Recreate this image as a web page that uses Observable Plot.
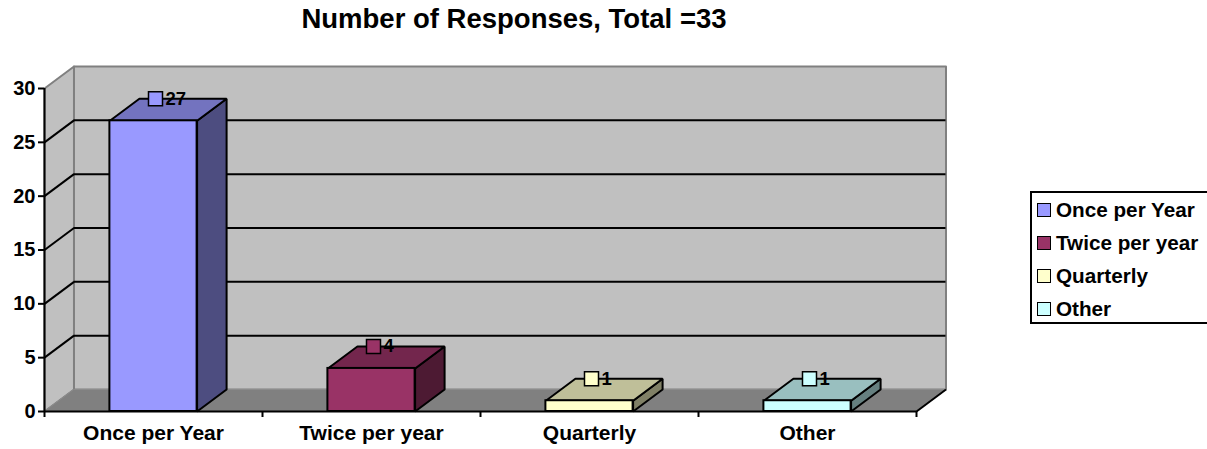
<!DOCTYPE html>
<html><head><meta charset="utf-8">
<script src="https://cdn.jsdelivr.net/npm/d3@7"></script>
<script src="https://cdn.jsdelivr.net/npm/@observablehq/plot@0.6"></script>
<style>
body{margin:0;background:#fff;font-family:"Liberation Sans",Arial,sans-serif;}
#wrap{position:relative;width:1207px;height:449px;overflow:hidden;}
#chart{position:absolute;left:0;top:0;}
#title{position:absolute;left:0;width:1028px;top:5px;text-align:center;font-weight:bold;font-size:27.5px;line-height:1;color:#000;}
#legend{position:absolute;left:1030px;top:191px;width:200px;height:133px;border:2px solid #000;box-sizing:border-box;background:#fff;}
.row{display:flex;align-items:center;height:33px;font-weight:bold;font-size:20.7px;}
.sw{width:12px;height:12px;border:1.5px solid #000;margin-left:5px;margin-right:5px;}
</style>
</head><body>
<div id="wrap">
<div id="chart"></div>
<div id="title">Number of Responses, Total =33</div>
<div id="legend"></div>
</div>
<script>
const categories = ["Once per Year", "Twice per year", "Quarterly", "Other"];
const responses = [27, 4, 1, 1];
const frontColors = ["#9999ff", "#993366", "#ffffcc", "#ccffff"];
const topColors = ["#7373bf", "#73264d", "#bfbf99", "#99bfbf"];
const sideColors = ["#4d4d80", "#4d1a33", "#808066", "#668080"];
const yTicks = [0, 5, 10, 15, 20, 25, 30];

const DX = 0.1353;  // depth in x units
const DY = 2.043;   // depth in y units
const B0 = 0.3, B1 = 0.7; // bar extent within a category slot
const N = categories.length, YMAX = 30;

const rows = categories.map((c, i) => ({i, c, v: responses[i], front: frontColors[i], top: topColors[i], side: sideColors[i]}));

const faces = [];
rows.forEach(d => {
  const l = d.i + B0, r = d.i + B1, v = d.v;
  [[r,0],[r+DX,DY],[r+DX,v+DY],[r,v]].forEach(p => faces.push({key: "s"+d.i, x: p[0], y: p[1], color: d.side}));
  [[l,v],[l+DX,v+DY],[r+DX,v+DY],[r,v]].forEach(p => faces.push({key: "t"+d.i, x: p[0], y: p[1], color: d.top}));
});

const leftWall = [[0,0],[0,YMAX],[DX,YMAX+DY],[DX,DY]].map(p => ({x:p[0], y:p[1]}));
const backWall = [[DX,DY],[DX,YMAX+DY],[N+DX,YMAX+DY],[N+DX,DY]].map(p => ({x:p[0], y:p[1]}));
const floor = [[0,0],[N,0],[N+DX,DY],[DX,DY]].map(p => ({x:p[0], y:p[1]}));
const inner = yTicks.filter(v => v > 0 && v < YMAX);

const plot = Plot.plot({
  width: 1207, height: 449,
  marginLeft: 44, marginRight: 291, marginTop: 88, marginBottom: 38,
  style: {fontFamily: "'Liberation Sans', Arial, sans-serif", fontWeight: "bold", fontSize: "20px", color: "#000", background: "transparent"},
  x: {type: "linear", domain: [0, N], axis: null},
  y: {domain: [0, YMAX], axis: null},
  color: {type: "identity"},
  marks: [
    Plot.line(leftWall, {x: "x", y: "y", fill: "#c0c0c0", stroke: "#808080", strokeWidth: 2, curve: "linear-closed"}),
    Plot.line(backWall, {x: "x", y: "y", fill: "#c0c0c0", stroke: "#808080", strokeWidth: 2, curve: "linear-closed"}),
    Plot.ruleY(inner, {y: v => v + DY, x1: () => DX, x2: () => N + DX, stroke: "#000", strokeWidth: 2}),
    Plot.link(inner, {x1: () => 0, y1: v => v, x2: () => DX, y2: v => v + DY, stroke: "#000", strokeWidth: 2}),
    Plot.line(floor, {x: "x", y: "y", fill: "#808080", stroke: "#8c8c8c", strokeWidth: 1, curve: "linear-closed"}),
    Plot.link([N], {x1: v => v, y1: () => 0, x2: v => v + DX, y2: () => DY, stroke: "#000", strokeWidth: 2}),
    Plot.line(faces, {x: "x", y: "y", z: "key", fill: "color", stroke: "#000", strokeWidth: 2, strokeLinejoin: "miter", curve: "linear-closed"}),
    Plot.rect(rows, {x1: d => d.i + B0, x2: d => d.i + B1, y1: () => 0, y2: d => d.v, fill: "front", stroke: "#000", strokeWidth: 2}),
    Plot.dot(rows, {x: d => d.i + 0.5, y: d => d.v + DY, symbol: "square", r: 7.9, fill: "front", stroke: "#000", strokeWidth: 1.5, dx: 2}),
    Plot.text(rows, {x: d => d.i + 0.5, y: d => d.v + DY, text: d => String(d.v), dx: 12, textAnchor: "start", fontWeight: "bold", fontSize: 18.5, fill: "#000"}),
    Plot.ruleX([0], {stroke: "#000", strokeWidth: 2}),
    Plot.ruleY([0], {stroke: "#000", strokeWidth: 2}),
    Plot.axisY({ticks: yTicks, tickSize: 6, tickPadding: 3, strokeWidth: 2, fontSize: 20, label: null}),
    Plot.axisX({ticks: d3.range(N + 1), tickSize: 6, tickFormat: () => "", strokeWidth: 2, label: null}),
    Plot.axisX({ticks: rows.map(d => d.i + 0.5), tickSize: 0, tickPadding: 14, tickFormat: v => categories[Math.floor(v)], fontSize: 21, label: null})
  ]
});
document.getElementById("chart").appendChild(plot);

const legend = document.getElementById("legend");
rows.forEach(d => {
  const row = document.createElement("div");
  row.className = "row";
  const sw = document.createElement("div");
  sw.className = "sw";
  sw.style.background = d.front;
  const t = document.createElement("span");
  t.textContent = d.c;
  row.appendChild(sw); row.appendChild(t);
  legend.appendChild(row);
});
</script>
</body></html>
